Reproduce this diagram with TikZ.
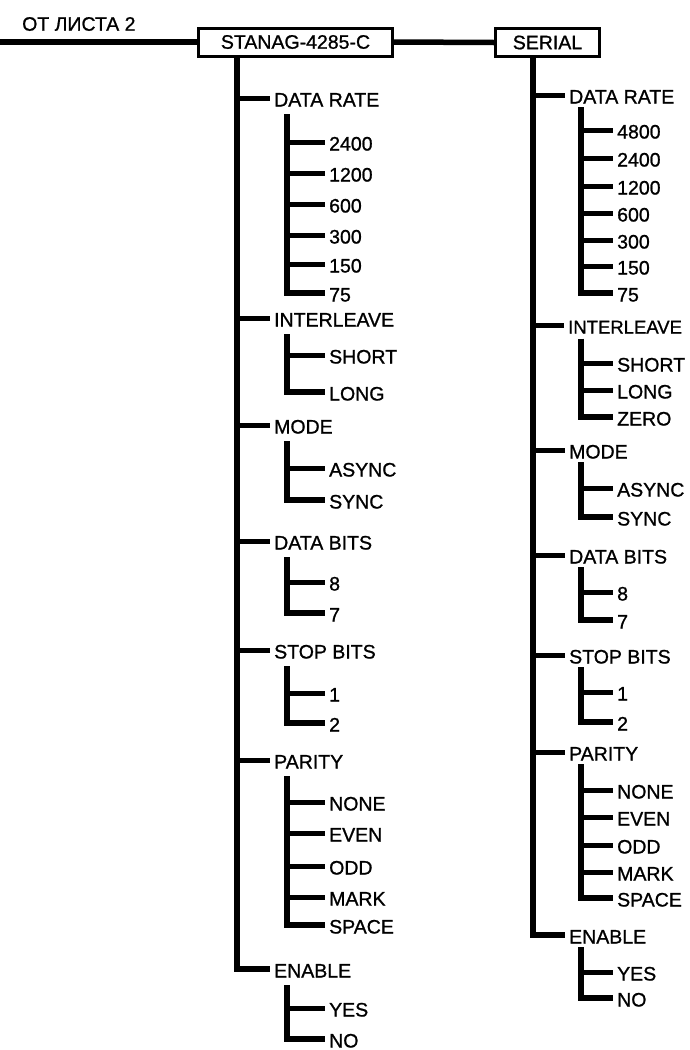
\documentclass[tikz,border=0pt]{standalone}
\usepackage{fontspec}
\setmainfont[FakeBold=1]{Liberation Sans}
\begin{document}
\begin{tikzpicture}[
        x=1pt, y=-1pt,
        font=\fontsize{19.5}{21}\selectfont,
        blk/.style={draw, line width=3pt, minimum height=28pt, inner sep=2pt,
                    fill=white},
        opt/.style={anchor=west, inner xsep=4pt, inner ysep=7.5pt,
                    text height=17pt, text depth=0pt},
        val/.style={anchor=west, inner xsep=4pt, inner ysep=0pt,
                    text height=17pt, text depth=0pt},
        trunk/.style={draw, line width=5.5pt},
        br/.style={draw, line width=5pt},
    ]
    \useasboundingbox (0,0) rectangle (689,1050);

    \node[anchor=west, inner sep=0pt] (from) at (22,24) {ОТ ЛИСТА 2};
    \node[blk, minimum width=194pt] (stanag) at (295.5,42) {STANAG-4285-C};
    \node[blk, minimum width=104pt] (serial) at (547.5,42.5) {SERIAL};

    \coordinate (start) at (0,42);
    \draw[trunk] (start) -- (stanag.west);
    \draw[trunk] (stanag.east) -- (serial.west);

    \coordinate (lt) at (237,0);
    \coordinate (lsub) at (287,0);

    \node[opt] (lrate)  at (270,98)  {DATA RATE};
    \node[val] (l2400)  at (325,142) {2400};
    \node[val] (l1200)  at (325,173) {1200};
    \node[val] (l600)   at (325,204) {600};
    \node[val] (l300)   at (325,235) {300};
    \node[val] (l150)   at (325,264) {150};
    \node[val] (l75)    at (325,293) {75};
    \node[opt] (linter) at (270,318) {INTERLEAVE};
    \node[val] (lshort) at (325,355) {SHORT};
    \node[val] (llong)  at (325,392) {LONG};
    \node[opt] (lmode)  at (270,425) {MODE};
    \node[val] (lasync) at (325,468) {ASYNC};
    \node[val] (lsync)  at (325,500) {SYNC};
    \node[opt] (ldbits) at (270,541) {DATA BITS};
    \node[val] (ld8)    at (325,582) {8};
    \node[val] (ld7)    at (325,613) {7};
    \node[opt] (lsbits) at (270,650) {STOP BITS};
    \node[val] (ls1)    at (325,693) {1};
    \node[val] (ls2)    at (325,723) {2};
    \node[opt] (lpar)   at (270,760) {PARITY};
    \node[val] (lnone)  at (325,802) {NONE};
    \node[val] (leven)  at (325,833) {EVEN};
    \node[val] (lodd)   at (325,866) {ODD};
    \node[val] (lmark)  at (325,897) {MARK};
    \node[val] (lspace) at (325,925) {SPACE};
    \node[opt] (lena)   at (270,969) {ENABLE};
    \node[val] (lyes)   at (325,1008) {YES};
    \node[val] (lno)    at (325,1039) {NO};

    \draw[trunk] (stanag.south -| lt) |- (lena.west);
    \foreach \n in {lrate,linter,lmode,ldbits,lsbits,lpar}
        \draw[br] (lt |- \n.west) -- (\n.west);

    \draw[trunk] (lrate.south -| lsub) |- (l75.west);
    \draw[trunk] (linter.south -| lsub) |- (llong.west);
    \draw[trunk] (lmode.south -| lsub) |- (lsync.west);
    \draw[trunk] (ldbits.south -| lsub) |- (ld7.west);
    \draw[trunk] (lsbits.south -| lsub) |- (ls2.west);
    \draw[trunk] (lpar.south -| lsub) |- (lspace.west);
    \draw[trunk] (lena.south -| lsub) |- (lno.west);
    \foreach \n in {l2400,l1200,l600,l300,l150,lshort,lasync,ld8,ls1,
                    lnone,leven,lodd,lmark,lyes}
        \draw[br] (lsub |- \n.west) -- (\n.west);

    \coordinate (rt) at (533,0);
    \coordinate (rsub) at (581,0);

    \node[opt, inner ysep=3.5pt] (rrate)  at (565,95)  {DATA RATE};
    \node[val] (r4800)  at (613,130) {4800};
    \node[val] (r2400)  at (613,158) {2400};
    \node[val] (r1200)  at (613,186) {1200};
    \node[val] (r600)   at (613,213) {600};
    \node[val] (r300)   at (613,240) {300};
    \node[val] (r150)   at (613,266) {150};
    \node[val] (r75)    at (613,293) {75};
    \node[opt, inner ysep=5pt, font=\fontsize{18.5}{21}\selectfont]
        (rinter) at (564,325) {INTERLEAVE};
    \node[val] (rshort) at (613,363) {SHORT};
    \node[val] (rlong)  at (613,390) {LONG};
    \node[val] (rzero)  at (613,417) {ZERO};
    \node[opt, inner ysep=3.5pt] (rmode)  at (565,450) {MODE};
    \node[val] (rasync) at (613,488) {ASYNC};
    \node[val] (rsync)  at (613,517) {SYNC};
    \node[opt, inner ysep=3.5pt] (rdbits) at (565,555) {DATA BITS};
    \node[val] (rd8)    at (613,592) {8};
    \node[val] (rd7)    at (613,620) {7};
    \node[opt, inner ysep=3.5pt] (rsbits) at (565,655) {STOP BITS};
    \node[val] (rs1)    at (613,692) {1};
    \node[val] (rs2)    at (613,722) {2};
    \node[opt, inner ysep=3.5pt] (rpar)   at (565,752) {PARITY};
    \node[val] (rnone)  at (613,790) {NONE};
    \node[val] (reven)  at (613,817) {EVEN};
    \node[val] (rodd)   at (613,845) {ODD};
    \node[val] (rmark)  at (613,872) {MARK};
    \node[val] (rspace) at (613,898) {SPACE};
    \node[opt, inner ysep=3.5pt] (rena)   at (565,935) {ENABLE};
    \node[val] (ryes)   at (613,972) {YES};
    \node[val] (rno)    at (613,998) {NO};

    \draw[trunk] (serial.south -| rt) |- (rena.west);
    \foreach \n in {rrate,rinter,rmode,rdbits,rsbits,rpar}
        \draw[br] (rt |- \n.west) -- (\n.west);

    \draw[trunk] (rrate.south -| rsub) |- (r75.west);
    \draw[trunk] (rinter.south -| rsub) |- (rzero.west);
    \draw[trunk] (rmode.south -| rsub) |- (rsync.west);
    \draw[trunk] (rdbits.south -| rsub) |- (rd7.west);
    \draw[trunk] (rsbits.south -| rsub) |- (rs2.west);
    \draw[trunk] (rpar.south -| rsub) |- (rspace.west);
    \draw[trunk] (rena.south -| rsub) |- (rno.west);
    \foreach \n in {r4800,r2400,r1200,r600,r300,r150,rshort,rlong,rasync,
                    rd8,rs1,rnone,reven,rodd,rmark,ryes}
        \draw[br] (rsub |- \n.west) -- (\n.west);

\end{tikzpicture}
\end{document}
